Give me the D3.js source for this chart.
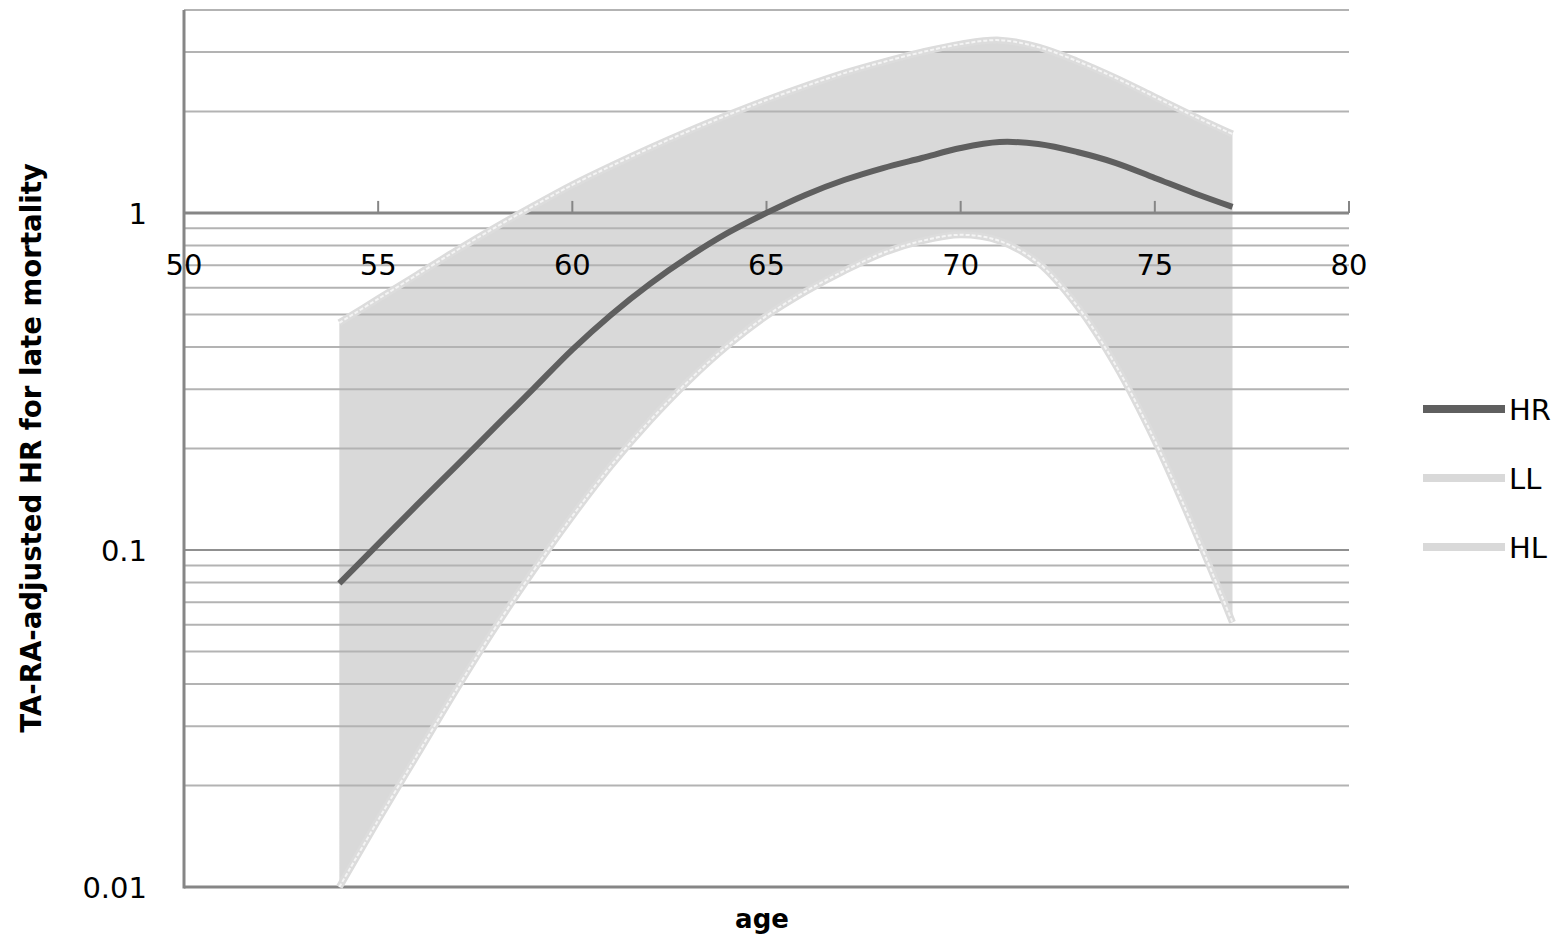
<!DOCTYPE html>
<html>
<head>
<meta charset="utf-8">
<script src="https://cdn.jsdelivr.net/npm/d3@7"></script>
<style>
    html, body { margin: 0; padding: 0; background: #fff; }
</style>
</head>
<body>
<script>
const fontFamily = "\"DejaVu Sans\", Verdana, sans-serif";

// chart data
const ages = [54, 55, 56, 57, 58, 59, 60, 61, 62, 63, 64, 65, 66, 67, 68, 69, 70, 71, 72, 73, 74, 75, 76, 77];
const hrValues = [0.0796, 0.104, 0.136, 0.177, 0.231, 0.301, 0.393, 0.499, 0.616, 0.741, 0.872, 1.0, 1.131, 1.252, 1.359, 1.455, 1.558, 1.623, 1.601, 1.516, 1.406, 1.270, 1.146, 1.042];
const llValues = [0.010, 0.0158, 0.0246, 0.0383, 0.0585, 0.0869, 0.126, 0.178, 0.242, 0.318, 0.404, 0.495, 0.584, 0.673, 0.761, 0.826, 0.861, 0.826, 0.711, 0.530, 0.352, 0.211, 0.116, 0.061];
const hlValues = [0.472, 0.556, 0.655, 0.772, 0.903, 1.049, 1.211, 1.378, 1.558, 1.750, 1.951, 2.162, 2.378, 2.599, 2.802, 2.999, 3.168, 3.255, 3.104, 2.820, 2.512, 2.207, 1.938, 1.714];

const xTicks = [50, 55, 60, 65, 70, 75, 80];
const yLabels = [0.01, 0.1, 1];
const yGrid = [0.02, 0.03, 0.04, 0.05, 0.06, 0.07, 0.08, 0.09,
    0.2, 0.3, 0.4, 0.5, 0.6, 0.7, 0.8, 0.9, 2, 3, 4];

const series = [
    { name: "HR", values: hrValues, color: "#5f5f5f" },
    { name: "LL", values: llValues, color: "#d9d9d9" },
    { name: "HL", values: hlValues, color: "#d9d9d9" }
];

const width = 1559;
const height = 937;
const plot = { left: 184, right: 1349, top: 10, bottom: 887 };

const x = d3.scaleLinear().domain([50, 80]).range([plot.left, plot.right]);
const y = d3.scaleLog().domain([0.01, 4]).range([plot.bottom, plot.top]);
const curve = d3.curveCatmullRom.alpha(0.5);

let svg = d3.select("body")
    .append("svg")
    .attr("width", width)
    .attr("height", height)
    .style("font-family", fontFamily);


function drawBand() {
    let band = d3.area()
        .x((d, i) => x(ages[i]))
        .y0((d, i) => y(llValues[i]))
        .y1((d, i) => y(hlValues[i]))
        .curve(curve);

    svg.append("path")
        .datum(ages)
        .attr("d", band)
        .attr("fill", "#d9d9d9");
}


function drawGrid() {
    svg.append("g")
        .classed("grid", true)
        .selectAll("line")
        .data(yGrid)
        .enter()
        .append("line")
        .attr("x1", plot.left)
        .attr("x2", plot.right)
        .attr("y1", d => y(d))
        .attr("y2", d => y(d))
        .attr("stroke", "#b3b3b3")
        .attr("stroke-width", 2);
}


function drawAxes() {
    let axis = svg.append("g").classed("axes", true);

    // the x axis crosses at 1, the 0.01 line is the frame bottom
    axis.selectAll("line.h")
        .data([0.01, 0.1, 1])
        .enter()
        .append("line")
        .classed("h", true)
        .attr("x1", plot.left)
        .attr("x2", plot.right)
        .attr("y1", d => y(d))
        .attr("y2", d => y(d))
        .attr("stroke", d => d === 0.1 ? "#909090" : "#868686")
        .attr("stroke-width", d => d === 0.1 ? 2 : 3);

    axis.append("line")
        .attr("x1", plot.left)
        .attr("x2", plot.left)
        .attr("y1", plot.top)
        .attr("y2", plot.bottom + 1.5)
        .attr("stroke", "#868686")
        .attr("stroke-width", 3);

    axis.selectAll("line.tick")
        .data(xTicks.slice(1))
        .enter()
        .append("line")
        .classed("tick", true)
        .attr("x1", d => x(d))
        .attr("x2", d => x(d))
        .attr("y1", y(1))
        .attr("y2", y(1) - 12)
        .attr("stroke", "#868686")
        .attr("stroke-width", 2);

    axis.selectAll("text.xlabel")
        .data(xTicks)
        .enter()
        .append("text")
        .classed("xlabel", true)
        .attr("x", d => x(d))
        .attr("y", y(1) + 62)
        .attr("text-anchor", "middle")
        .attr("font-size", 29)
        .attr("fill", "#000")
        .text(d => d);

    axis.selectAll("text.ylabel")
        .data(yLabels)
        .enter()
        .append("text")
        .classed("ylabel", true)
        .attr("x", 147)
        .attr("y", d => y(d) + 11)
        .attr("text-anchor", "end")
        .attr("font-size", 29)
        .attr("fill", "#000")
        .text(d => d);

    svg.append("text")
        .attr("transform", "translate(41, 448) rotate(-90)")
        .attr("text-anchor", "middle")
        .attr("font-size", 27.6)
        .attr("font-weight", "bold")
        .attr("fill", "#000")
        .text("TA-RA-adjusted HR for late mortality");

    svg.append("text")
        .attr("x", 762)
        .attr("y", 928)
        .attr("text-anchor", "middle")
        .attr("font-size", 26)
        .attr("font-weight", "bold")
        .attr("fill", "#000")
        .text("age");
}


function drawLines() {
    let line = values => d3.line()
        .x((d, i) => x(ages[i]))
        .y(d => y(d))
        .curve(curve)(values);

    let g = svg.append("g").classed("lines", true);

    series.slice(1).forEach(s => {
        g.append("path")
            .attr("d", line(s.values))
            .attr("fill", "none")
            .attr("stroke", "#dcdcdc")
            .attr("stroke-width", 7);
        g.append("path")
            .attr("d", line(s.values))
            .attr("fill", "none")
            .attr("stroke", "#f4f4f4")
            .attr("stroke-width", 2)
            .attr("stroke-dasharray", "4 2");
    });

    g.append("path")
        .attr("d", line(hrValues))
        .attr("fill", "none")
        .attr("stroke", series[0].color)
        .attr("stroke-width", 6);
}


function drawLegend() {
    let items = svg.append("g")
        .classed("legend", true)
        .selectAll("g")
        .data(series)
        .enter()
        .append("g")
        .attr("transform", (d, i) => "translate(0," + (409 + i * 69) + ")");

    items.append("line")
        .attr("x1", 1423)
        .attr("x2", 1505)
        .attr("stroke", d => d.color)
        .attr("stroke-width", 8);

    items.append("text")
        .attr("x", 1509)
        .attr("y", 11)
        .attr("font-size", 29)
        .attr("fill", "#000")
        .text(d => d.name);
}


drawBand();
drawGrid();
drawAxes();
drawLines();
drawLegend();
</script>
</body>
</html>
